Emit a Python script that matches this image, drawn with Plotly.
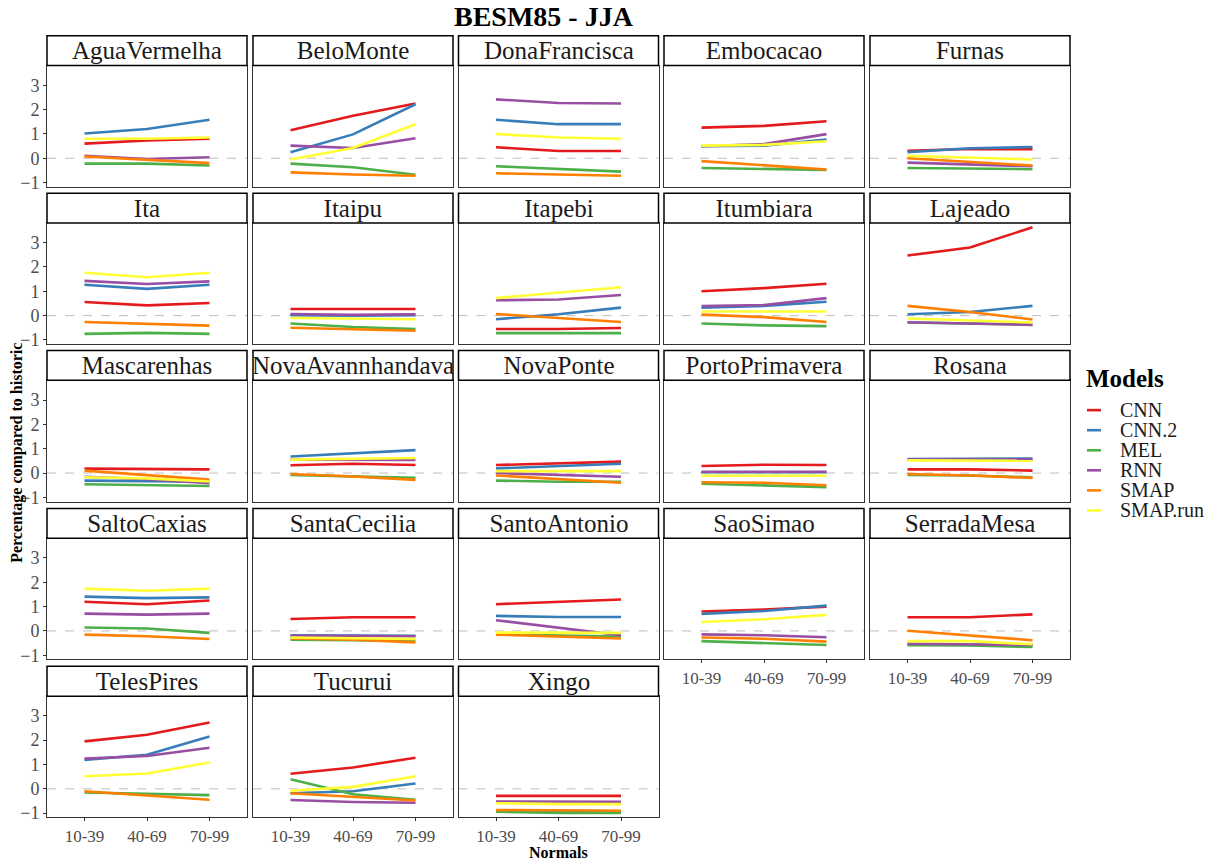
import plotly.graph_objects as go

W, H = 1222, 866

periods = ["10-39", "40-69", "70-99"]
models = ["CNN", "CNN.2", "MEL", "RNN", "SMAP", "SMAP.run"]
model_colors = ["#E41A1C", "#377EB8", "#4DAF4A", "#984EA3", "#FF7F00", "#FFFF33"]

# Percentage change per model, for the three normals (10-39, 40-69, 70-99)
AguaVermelha = {"CNN": [0.60, 0.73, 0.80], "CNN.2": [1.02, 1.20, 1.58], "MEL": [-0.22, -0.22, -0.30],
                "RNN": [0.10, -0.03, 0.04], "SMAP": [0.07, -0.05, -0.20], "SMAP.run": [0.80, 0.80, 0.85]}
BeloMonte = {"CNN": [1.15, 1.75, 2.25], "CNN.2": [0.25, 0.98, 2.22], "MEL": [-0.22, -0.37, -0.68],
             "RNN": [0.52, 0.42, 0.82], "SMAP": [-0.58, -0.67, -0.72], "SMAP.run": [-0.05, 0.42, 1.40]}
DonaFrancisca = {"CNN": [0.45, 0.30, 0.30], "CNN.2": [1.58, 1.40, 1.40], "MEL": [-0.33, -0.43, -0.55],
                 "RNN": [2.42, 2.27, 2.25], "SMAP": [-0.62, -0.67, -0.72], "SMAP.run": [1.00, 0.85, 0.80]}
Embocacao = {"CNN": [1.26, 1.33, 1.52], "CNN.2": [0.49, 0.52, 0.77], "MEL": [-0.40, -0.44, -0.48],
             "RNN": [0.49, 0.58, 0.99], "SMAP": [-0.12, -0.30, -0.46], "SMAP.run": [0.52, 0.55, 0.70]}
Furnas = {"CNN": [0.31, 0.38, 0.37], "CNN.2": [0.25, 0.41, 0.46], "MEL": [-0.40, -0.41, -0.45],
          "RNN": [-0.18, -0.25, -0.33], "SMAP": [0.00, -0.14, -0.30], "SMAP.run": [0.10, 0.03, -0.05]}
Ita = {"CNN": [0.56, 0.42, 0.52], "CNN.2": [1.27, 1.10, 1.27], "MEL": [-0.75, -0.71, -0.75],
       "RNN": [1.43, 1.30, 1.41], "SMAP": [-0.26, -0.33, -0.41], "SMAP.run": [1.76, 1.58, 1.76]}
Itaipu = {"CNN": [0.27, 0.27, 0.27], "CNN.2": [0.02, 0.00, 0.02], "MEL": [-0.32, -0.47, -0.55],
          "RNN": [0.07, 0.03, 0.05], "SMAP": [-0.50, -0.57, -0.62], "SMAP.run": [-0.10, -0.14, -0.15]}
Itapebi = {"CNN": [-0.55, -0.55, -0.51], "CNN.2": [-0.15, 0.06, 0.33], "MEL": [-0.72, -0.72, -0.72],
           "RNN": [0.63, 0.66, 0.85], "SMAP": [0.07, -0.10, -0.26], "SMAP.run": [0.72, 0.93, 1.17]}
Itumbiara = {"CNN": [1.00, 1.13, 1.31], "CNN.2": [0.33, 0.40, 0.57], "MEL": [-0.32, -0.40, -0.43],
             "RNN": [0.39, 0.44, 0.72], "SMAP": [0.04, -0.06, -0.26], "SMAP.run": [0.17, 0.17, 0.17]}
Lajeado = {"CNN": [2.47, 2.80, 3.63], "CNN.2": [0.06, 0.15, 0.40], "MEL": [-0.28, -0.33, -0.37],
           "RNN": [-0.27, -0.32, -0.38], "SMAP": [0.40, 0.15, -0.16], "SMAP.run": [-0.12, -0.20, -0.28]}
Mascarenhas = {"CNN": [0.18, 0.15, 0.15], "CNN.2": [-0.31, -0.33, -0.36], "MEL": [-0.46, -0.50, -0.53],
               "RNN": [-0.15, -0.25, -0.42], "SMAP": [0.10, -0.10, -0.27], "SMAP.run": [-0.17, -0.22, -0.35]}
NovaAvannhandava = {"CNN": [0.32, 0.38, 0.33], "CNN.2": [0.68, 0.82, 0.94], "MEL": [-0.08, -0.14, -0.20],
                    "RNN": [0.55, 0.54, 0.54], "SMAP": [-0.04, -0.14, -0.28], "SMAP.run": [0.55, 0.59, 0.62]}
NovaPonte = {"CNN": [0.33, 0.40, 0.47], "CNN.2": [0.19, 0.27, 0.38], "MEL": [-0.31, -0.36, -0.36],
             "RNN": [0.00, -0.06, -0.15], "SMAP": [-0.10, -0.24, -0.40], "SMAP.run": [0.08, 0.08, 0.08]}
PortoPrimavera = {"CNN": [0.29, 0.34, 0.33], "CNN.2": [0.03, 0.03, 0.03], "MEL": [-0.44, -0.51, -0.58],
                  "RNN": [0.05, 0.05, 0.05], "SMAP": [-0.38, -0.40, -0.50], "SMAP.run": [-0.11, -0.11, -0.11]}
Rosana = {"CNN": [0.15, 0.15, 0.10], "CNN.2": [0.57, 0.57, 0.60], "MEL": [-0.08, -0.10, -0.18],
          "RNN": [0.55, 0.55, 0.55], "SMAP": [-0.04, -0.10, -0.20], "SMAP.run": [0.52, 0.52, 0.50]}
SaltoCaxias = {"CNN": [1.20, 1.10, 1.25], "CNN.2": [1.41, 1.35, 1.38], "MEL": [0.14, 0.10, -0.08],
               "RNN": [0.71, 0.67, 0.71], "SMAP": [-0.15, -0.22, -0.33], "SMAP.run": [1.74, 1.65, 1.74]}
SantaCecilia = {"CNN": [0.49, 0.56, 0.56], "CNN.2": [-0.18, -0.18, -0.20], "MEL": [-0.36, -0.38, -0.40],
                "RNN": [-0.20, -0.20, -0.22], "SMAP": [-0.31, -0.36, -0.47], "SMAP.run": [-0.27, -0.30, -0.33]}
SantoAntonio = {"CNN": [1.10, 1.20, 1.29], "CNN.2": [0.62, 0.57, 0.57], "MEL": [-0.14, -0.18, -0.23],
                "RNN": [0.44, 0.12, -0.18], "SMAP": [-0.15, -0.23, -0.31], "SMAP.run": [-0.07, -0.07, -0.08]}
SaoSimao = {"CNN": [0.80, 0.88, 1.00], "CNN.2": [0.70, 0.82, 1.04], "MEL": [-0.42, -0.50, -0.58],
            "RNN": [-0.14, -0.18, -0.26], "SMAP": [-0.27, -0.32, -0.44], "SMAP.run": [0.37, 0.48, 0.66]}
SerradaMesa = {"CNN": [0.56, 0.56, 0.68], "CNN.2": [-0.55, -0.56, -0.60], "MEL": [-0.59, -0.60, -0.66],
               "RNN": [-0.53, -0.55, -0.58], "SMAP": [0.01, -0.18, -0.38], "SMAP.run": [-0.42, -0.42, -0.55]}
TelesPires = {"CNN": [1.95, 2.22, 2.73], "CNN.2": [1.19, 1.40, 2.15], "MEL": [-0.15, -0.20, -0.26],
              "RNN": [1.24, 1.35, 1.69], "SMAP": [-0.10, -0.28, -0.45], "SMAP.run": [0.52, 0.63, 1.08]}
Tucurui = {"CNN": [0.62, 0.88, 1.28], "CNN.2": [-0.18, -0.10, 0.22], "MEL": [0.39, -0.22, -0.45],
           "RNN": [-0.46, -0.54, -0.57], "SMAP": [-0.18, -0.32, -0.48], "SMAP.run": [-0.08, 0.08, 0.52]}
Xingo = {"CNN": [-0.29, -0.29, -0.29], "CNN.2": [-0.88, -0.90, -0.92], "MEL": [-0.94, -0.99, -0.99],
         "RNN": [-0.52, -0.53, -0.53], "SMAP": [-0.87, -0.88, -0.90], "SMAP.run": [-0.59, -0.63, -0.63]}

stations = [
    ("AguaVermelha", AguaVermelha), ("BeloMonte", BeloMonte), ("DonaFrancisca", DonaFrancisca),
    ("Embocacao", Embocacao), ("Furnas", Furnas), ("Ita", Ita), ("Itaipu", Itaipu),
    ("Itapebi", Itapebi), ("Itumbiara", Itumbiara), ("Lajeado", Lajeado),
    ("Mascarenhas", Mascarenhas), ("NovaAvannhandava", NovaAvannhandava), ("NovaPonte", NovaPonte),
    ("PortoPrimavera", PortoPrimavera), ("Rosana", Rosana), ("SaltoCaxias", SaltoCaxias),
    ("SantaCecilia", SantaCecilia), ("SantoAntonio", SantoAntonio), ("SaoSimao", SaoSimao),
    ("SerradaMesa", SerradaMesa), ("TelesPires", TelesPires), ("Tucurui", Tucurui), ("Xingo", Xingo),
]

y_ticks = [-1, 0, 1, 2, 3]
y_range = [-1.17, 3.81]

# Facet grid geometry (pixels)
NCOL = 5
col_left = [47, 253, 458.5, 664, 870]
panel_w = 200
row_top = [36, 194.5, 353, 512, 671]
strip_h = 30
panel_h = 122

SERIF = "Liberation Serif, Times New Roman, serif"
TICK_GREY = "#4D4D4D"

fig = go.Figure()
layout = dict(
    width=W, height=H,
    margin=dict(l=0, r=0, t=0, b=0),
    paper_bgcolor="white", plot_bgcolor="white",
    font=dict(family=SERIF, color="black"),
    showlegend=False,
)
shapes = []
annotations = []

n = len(stations)
# bottom panel of each column gets x tick labels
bottom_of_col = {}
for i in range(n):
    bottom_of_col[i % NCOL] = i

for i, (name, data) in enumerate(stations):
    r, c = divmod(i, NCOL)
    ax = "" if i == 0 else str(i + 1)
    x0p = col_left[c]
    x1p = x0p + panel_w
    strip_top = row_top[r]
    ptop = strip_top + strip_h
    pbot = ptop + panel_h

    show_x = bottom_of_col[c] == i
    show_y = c == 0

    layout["xaxis" + ax] = dict(
        domain=[x0p / W, x1p / W], anchor="y" + ax,
        type="category", categoryorder="array", categoryarray=periods,
        range=[-0.6, 2.6], showgrid=False, zeroline=False,
        showline=True, mirror=True, linecolor="#333333", linewidth=1,
        ticks="outside" if show_x else "", ticklen=3, tickcolor="#333333",
        showticklabels=show_x, tickfont=dict(size=17, color=TICK_GREY, family=SERIF),
    )
    layout["yaxis" + ax] = dict(
        domain=[1 - pbot / H, 1 - ptop / H], anchor="x" + ax,
        range=y_range, tickvals=y_ticks, showgrid=False, zeroline=False,
        showline=True, mirror=True, linecolor="#333333", linewidth=1,
        ticks="outside" if show_y else "", ticklen=3, tickcolor="#333333",
        showticklabels=show_y, tickfont=dict(size=18, color=TICK_GREY, family=SERIF),
    )

    # dashed reference at zero change
    shapes.append(dict(type="line", xref="x" + ax + " domain", yref="y" + ax,
                       x0=0, x1=1, y0=0, y1=0, layer="below",
                       line=dict(color="#BEBEBE", width=1, dash="dash")))

    # strip with station name
    shapes.append(dict(type="rect", xref="paper", yref="paper",
                       x0=x0p / W, x1=x1p / W, y0=1 - ptop / H, y1=1 - strip_top / H,
                       fillcolor="white", line=dict(color="black", width=1.5)))
    annotations.append(dict(text=name, xref="paper", yref="paper",
                            x=(x0p + x1p) / 2 / W, y=1 - (strip_top + strip_h / 2) / H,
                            xanchor="center", yanchor="middle", showarrow=False,
                            width=panel_w - 2, font=dict(size=25, color="#1A1A1A", family=SERIF)))

    for m, col in zip(models, model_colors):
        fig.add_trace(go.Scatter(
            x=periods, y=data[m], mode="lines", name=m,
            line=dict(color=col, width=2.6),
            xaxis="x" + ax, yaxis="y" + ax, showlegend=False, hoverinfo="skip",
        ))

# Title and axis titles
annotations.append(dict(text="<b>BESM85 - JJA</b>", xref="paper", yref="paper",
                        x=544 / W, y=1 - 17 / H, xanchor="center", yanchor="middle",
                        showarrow=False, font=dict(size=28, family=SERIF, color="black")))
annotations.append(dict(text="<b>Normals</b>", xref="paper", yref="paper",
                        x=558 / W, y=1 - 858 / H, xanchor="center", yanchor="middle",
                        showarrow=False, font=dict(size=16, family=SERIF, color="black")))
annotations.append(dict(text="<b>Percentage compared to historic</b>", xref="paper", yref="paper",
                        x=17 / W, y=1 - 456 / H, xanchor="center", yanchor="middle", textangle=-90,
                        showarrow=False, font=dict(size=16, family=SERIF, color="black")))

# Legend for the models
annotations.append(dict(text="<b>Models</b>", xref="paper", yref="paper",
                        x=1084 / W, y=1 - 381 / H, xanchor="left", yanchor="middle",
                        showarrow=False, font=dict(size=25, family=SERIF, color="black")))
for k, (m, col) in enumerate(zip(models, model_colors)):
    yc = 413 + k * 20.2
    shapes.append(dict(type="line", xref="paper", yref="paper",
                       x0=1087 / W, x1=1101 / W, y0=1 - yc / H, y1=1 - yc / H,
                       line=dict(color=col, width=2.6)))
    annotations.append(dict(text=m, xref="paper", yref="paper",
                            x=1118 / W, y=1 - yc / H, xanchor="left", yanchor="middle",
                            showarrow=False, font=dict(size=20, family=SERIF, color="#1A1A1A")))

layout["shapes"] = shapes
layout["annotations"] = annotations
fig.update_layout(**layout)

fig.write_html("out.html")
